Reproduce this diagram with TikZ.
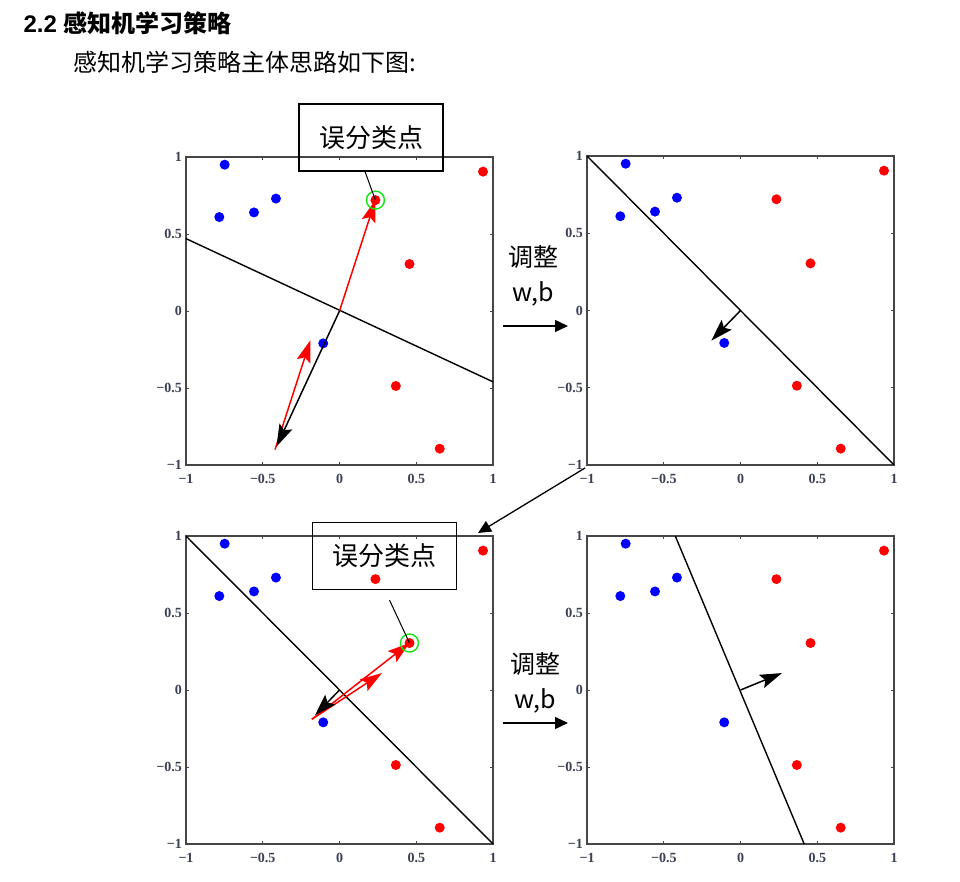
\documentclass[tikz,border=0pt]{standalone}
\usepackage{fontspec}
\setmainfont{Liberation Sans}
\newfontfamily\cjk{Noto Sans CJK SC}
\newfontfamily\tickfont{Liberation Serif}
\usetikzlibrary{arrows.meta,positioning}
\definecolor{ptblue}{RGB}{0,0,255}
\definecolor{ptred}{RGB}{255,0,0}
\definecolor{ptgreen}{RGB}{20,230,20}
\definecolor{axisgray}{RGB}{70,70,70}
\definecolor{ticklabel}{RGB}{60,64,84}
\tikzstyle{axisframe} = [line width=1.8pt, color=axisgray]
\tikzstyle{tickmark} = [line width=0.7pt, color=axisgray]
\tikzstyle{ticklab} = [inner sep=0pt, color=ticklabel, font=\tickfont\bfseries\fontsize{14}{14}\selectfont]
\tikzstyle{sepline} = [line width=1.4pt, black]
\tikzstyle{warrow} = [line width=1.5pt, black, -{Stealth[length=22pt,width=14pt,inset=4pt]}]
\tikzstyle{rarrow} = [line width=1.5pt, ptred, -{Stealth[length=22pt,width=14pt,inset=4pt]}]
\tikzstyle{steparrow} = [line width=1.3pt, black, -{Triangle[length=13pt,width=12pt]}]
\tikzstyle{missbox} = [draw, line width=1.1pt, minimum width=144pt, minimum height=67pt, font=\cjk\fontsize{26}{26}\selectfont]
\tikzstyle{missring} = [circle, draw=ptgreen, line width=1.4pt, minimum size=18pt, inner sep=0pt]
\tikzstyle{adjust} = [align=center, font=\cjk\fontsize{25}{35}\selectfont]
% one MATLAB style axes box with its ticks
\newcommand{\plotaxes}{%
  \draw[axisframe] (-1,-1) rectangle (1,1);
  \foreach \t in {-0.5,0,0.5} {
    \draw[tickmark] (\t,-1) -- ++(0,0.02);
    \draw[tickmark] (\t,1) -- ++(0,-0.02);
    \draw[tickmark] (-1,\t) -- ++(0.02,0);
    \draw[tickmark] (1,\t) -- ++(-0.02,0);
  }
  \foreach \t/\lab in {-1/−1,-0.5/−0.5,0/0,0.5/0.5,1/1} {
    \node[ticklab, anchor=north, yshift=-9pt] at (\t,-1) {\lab};
    \node[ticklab, anchor=east, xshift=-4pt] at (-1,\t) {\lab};
  }
}
% the ten samples
\newcommand{\plotpoints}{%
  \foreach \px/\py in {-0.748/0.95, -0.783/0.61, -0.557/0.64, -0.414/0.73, -0.106/-0.21}
    \fill[ptblue] (\px,\py) circle (5pt);
  \foreach \px/\py in {0.935/0.905, 0.234/0.72, 0.456/0.305, 0.367/-0.487, 0.653/-0.894}
    \fill[ptred] (\px,\py) circle (5pt);
}
\begin{document}
\begin{tikzpicture}
\useasboundingbox (0,0) rectangle (960pt,881pt);
% Heading
\node[anchor=west, font=\bfseries\fontsize{24}{24}\selectfont] (title) at (20pt,858pt) {2.2 {\cjk\bfseries 感知机学习策略}};
\node[anchor=west, font=\cjk\fontsize{24}{24}\selectfont] (intro) at (70pt,819pt) {感知机学习策略主体思路如下图:};

% Plot 1: first misclassified point
\begin{scope}[shift={(339.5pt,570pt)}, x=153.5pt, y=154pt]
  \plotaxes
  \plotpoints
  \draw[sepline] (-1,0.47) -- (1,-0.46);
  \coordinate (o1) at (0,0);
  \coordinate (w1) at (-0.41,-0.88);
  \coordinate (s1) at (-0.42,-0.90);
  \coordinate (x1) at (-0.19,-0.19);
  \coordinate (miss1) at (0.234,0.72);
  \draw[rarrow] (o1) -- (miss1);
  \draw[rarrow] (s1) -- (x1);
  \draw[warrow] (o1) -- (w1);
  \node[missring] (ring1) at (miss1) {};
\end{scope}
\node[missbox] (box1) at (371pt,743.5pt) {误分类点};
\draw[line width=1pt] ([xshift=-6pt]box1.south) -- (miss1);

% Plot 2: after the first update
\begin{scope}[shift={(740.5pt,570.5pt)}, x=153.5pt, y=154.5pt]
  \plotaxes
  \plotpoints
  \draw[sepline] (-1,1) -- (1,-1);
  \coordinate (o2) at (0,0);
  \coordinate (w2) at (-0.19,-0.195);
  \draw[warrow] (o2) -- (w2);
\end{scope}

% Plot 3: second misclassified point
\begin{scope}[shift={(339.5pt,191pt)}, x=153.5pt, y=154pt]
  \plotaxes
  \plotpoints
  \draw[sepline] (-1,1) -- (1,-1);
  \coordinate (o3) at (0,0);
  \coordinate (w3) at (-0.16,-0.165);
  \coordinate (s3) at (-0.18,-0.19);
  \coordinate (x3) at (0.277,0.11);
  \coordinate (miss2) at (0.456,0.305);
  \draw[rarrow] (s3) -- (miss2);
  \draw[rarrow] (s3) -- (x3);
  \draw[warrow] (o3) -- (w3);
  \node[missring] (ring2) at (miss2) {};
\end{scope}
\node[missbox] (box2) at (384.5pt,325pt) {误分类点};
\draw[line width=1pt] ([xshift=5pt,yshift=-10pt]box2.south) -- (miss2);

% Plot 4: after the second update
\begin{scope}[shift={(740.5pt,191pt)}, x=153.5pt, y=154pt]
  \plotaxes
  \plotpoints
  \draw[sepline] (-0.425,1) -- (0.415,-1);
  \coordinate (o4) at (0,0);
  \coordinate (w4) at (0.27,0.11);
  \draw[warrow] (o4) -- (w4);
\end{scope}

% update steps between the plots
\node[adjust] (adj1) at (533pt,605.5pt) {调整\\w,b};
\coordinate (a1s) at (503pt,555pt);
\coordinate (a1e) at (568pt,555pt);
\draw[steparrow] (a1s) -- (a1e);
\coordinate (d1s) at (585pt,413pt);
\coordinate (d1e) at (478pt,348pt);
\draw[steparrow] (d1s) -- (d1e);
\node[adjust] (adj2) at (535pt,198.5pt) {调整\\w,b};
\coordinate (a2s) at (503pt,158pt);
\coordinate (a2e) at (568pt,158pt);
\draw[steparrow] (a2s) -- (a2e);
\end{tikzpicture}
\end{document}
